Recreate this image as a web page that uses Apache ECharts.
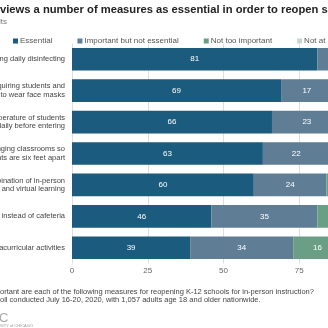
<!DOCTYPE html>
<html><head><meta charset="utf-8">
<script src="https://cdn.jsdelivr.net/npm/echarts@6/dist/echarts.min.js"></script>
<style>
html,body{margin:0;padding:0;width:328px;height:328px;overflow:hidden;background:#fff;position:relative}
#c{position:absolute;left:-100px;top:0;width:488px;height:328px}
</style></head><body>
<div id="c"></div>
<script>
// ---- data ----
const categories = [
  'Requiring daily disinfecting',
  'Requiring students and\nteachers to wear face masks',
  'Checking the temperature of students\nand teachers daily before entering',
  'Rearranging classrooms so\nstudents are six feet apart',
  'Using a combination of in-person\nand virtual learning',
  'Eating lunch in classrooms instead of cafeteria',
  'Limiting extracurricular activities'
];
const seriesNames = ['Essential', 'Important but not essential', 'Not too important', 'Not at all important'];
const essential = [81, 69, 66, 63, 60, 46, 39];
const important = [15, 17, 23, 22, 24, 35, 34];
const notToo = [3, 7, 7, 9, 11, 13, 16];
const notAtAll = [1, 6, 3, 5, 4, 5, 10];
const xTicks = [0, 25, 50, 75, 100];
const titleText = 'The public views a number of measures as essential in order to reopen schools';
const subtitleText = 'Percent of adults';
const footer1 = 'Question: How important are each of the following measures for reopening K-12 schools for in-person instruction?';
const footer2 = 'Source: AP-NORC poll conducted July 16-20, 2020, with 1,057 adults age 18 and older nationwide.';

// ---- layout ----
const O = 100; // page x = chart x - O
const colors = ['#1b5b7d', '#5f7e96', '#6a9f86', '#c9d8cd'];
const cv = document.createElement('canvas').getContext('2d');
function w(txt, font){ cv.font = font; return cv.measureText(txt).width; }
const titleFont = 'bold 11.2px "Liberation Sans"';
const bodyFont = '7.5px "Liberation Sans"';
const titleX = O - w('The public ', titleFont);
const foot1X = O - w('Question: How imp', bodyFont);
const foot2X = O - w('Source: AP-NORC p', bodyFont);

const chart = echarts.init(document.getElementById('c'), null, {renderer: 'canvas'});
const vals = [essential, important, notToo, notAtAll];
chart.setOption({
  animation: false,
  textStyle: {fontFamily: 'Liberation Sans'},
  grid: {left: O + 72, top: 43.5, width: 303, height: 220, containLabel: false},
  legend: {
    left: O + 13, top: 37, padding: 0, itemWidth: 5, itemHeight: 5, itemGap: 25, icon: 'rect',
    textStyle: {fontSize: 8, color: '#555', padding: [0, 0, 0, -3]},
    data: seriesNames
  },
  xAxis: {
    type: 'value', min: xTicks[0], max: xTicks[xTicks.length - 1], interval: 25,
    axisLine: {show: false}, axisTick: {show: false},
    axisLabel: {fontSize: 8, color: '#666', margin: 3},
    splitLine: {show: true, lineStyle: {color: '#dedede', width: 1}}
  },
  yAxis: {
    type: 'category', inverse: true, data: categories,
    axisLine: {show: false}, axisTick: {show: false},
    axisLabel: {fontSize: 7.5, color: '#444', lineHeight: 8.5, margin: 7, align: 'right'}
  },
  series: seriesNames.map((n, i) => ({
    name: n, type: 'bar', stack: 'all', data: vals[i],
    barCategoryGap: '28%',
    itemStyle: {color: colors[i]},
    label: {show: true, position: 'inside', color: '#fff', fontSize: 8}
  })),
  graphic: [
    {type: 'text', left: titleX, top: 4.5, style: {text: titleText, font: titleFont, fill: '#222'}},
    {type: 'text', left: O + 7 - w(subtitleText, '8px "Liberation Sans"'), top: 17.5, style: {text: subtitleText, font: '8px "Liberation Sans"', fill: '#777'}},
    {type: 'text', left: foot1X, top: 287.5, style: {text: footer1, font: bodyFont, fill: '#444'}},
    {type: 'text', left: foot2X, top: 296, style: {text: footer2, font: bodyFont, fill: '#444'}},
    {type: 'text', left: O - 30, top: 312, style: {text: 'NORC', font: '13px "Liberation Sans"', fill: '#aaa'}},
    {type: 'text', left: O + 33 - w('at the UNIVERSITY of CHICAGO', '4px "Liberation Sans"'), top: 324, style: {text: 'at the UNIVERSITY of CHICAGO', font: '4px "Liberation Sans"', fill: '#999'}}
  ]
});
</script>
</body></html>
